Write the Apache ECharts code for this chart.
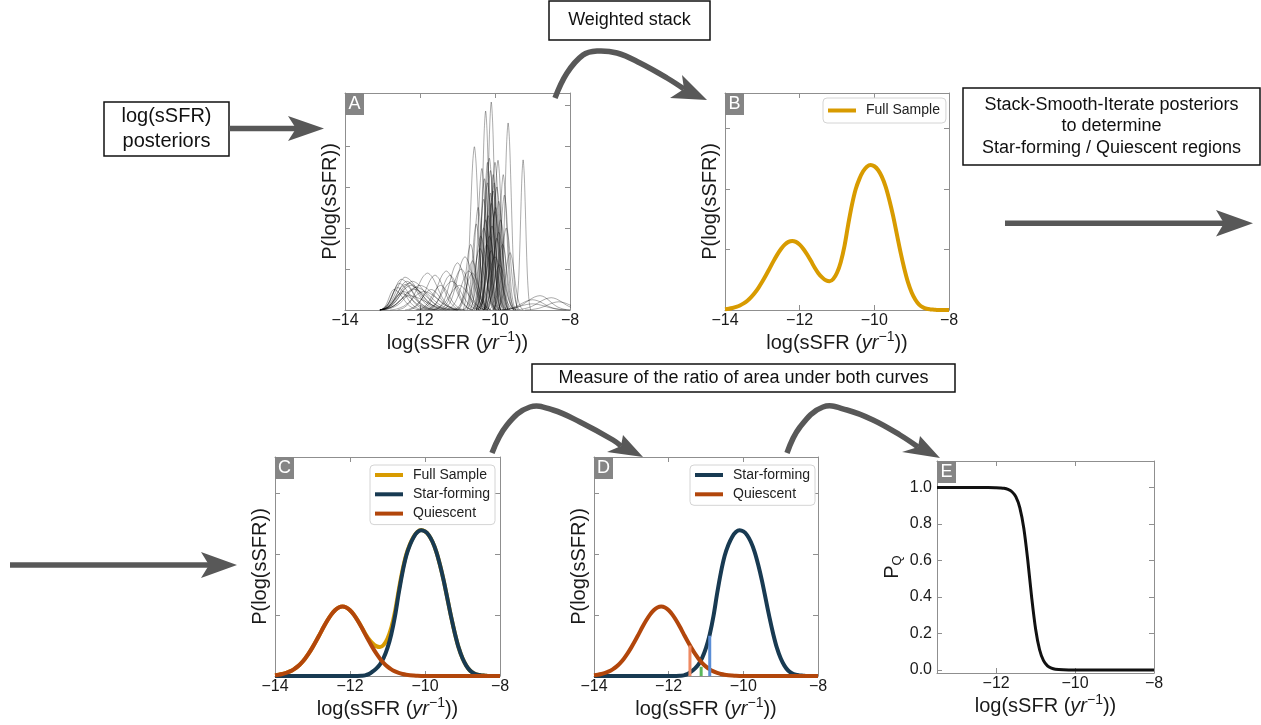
<!DOCTYPE html>
<html><head><meta charset="utf-8">
<script src="https://cdn.jsdelivr.net/npm/echarts@6/dist/echarts.min.js"></script>
<style>html,body{margin:0;padding:0;background:#fff}#c{width:1261px;height:725px}</style>
</head><body><div id="c"></div>
<script>
// ---------- data ----------
const xs = [-14.0,-13.9,-13.8,-13.7,-13.6,-13.5,-13.4,-13.3,-13.2,-13.1,-13.0,-12.9,-12.8,-12.7,-12.6,-12.5,-12.4,-12.3,-12.2,-12.1,-12.0,-11.9,-11.8,-11.7,-11.6,-11.5,-11.4,-11.3,-11.2,-11.1,-11.0,-10.9,-10.8,-10.7,-10.6,-10.5,-10.4,-10.3,-10.2,-10.1,-10.0,-9.9,-9.8,-9.7,-9.6,-9.5,-9.4,-9.3,-9.2,-9.1,-9.0,-8.9,-8.8,-8.7,-8.6,-8.5,-8.4,-8.3,-8.2,-8.1,-8.0];
const quiescent = [0.013,0.021,0.033,0.05,0.075,0.109,0.154,0.212,0.284,0.37,0.469,0.577,0.691,0.806,0.913,1.006,1.078,1.124,1.14,1.124,1.078,1.006,0.913,0.806,0.691,0.577,0.469,0.37,0.284,0.212,0.154,0.109,0.075,0.05,0.033,0.021,0.013,0.008,0.004,0.002,0.001,0,0,0,0,0,0,0,0,0,0,0,0,0,0,0,0,0,0,0,0];
const starForming = [0,0,0,0,0,0,0,0,0,0,0,0,0,0,0,0,0,0,0,0,0,0.001,0.002,0.005,0.01,0.03,0.07,0.12,0.19,0.3,0.46,0.68,0.98,1.36,1.7,1.97,2.15,2.28,2.36,2.39,2.37,2.31,2.2,2.04,1.82,1.56,1.26,0.96,0.69,0.46,0.29,0.17,0.09,0.045,0.02,0.01,0.005,0,0,0,0];
const fullSample = [0.013,0.021,0.033,0.05,0.075,0.109,0.154,0.212,0.284,0.37,0.469,0.577,0.691,0.806,0.913,1.006,1.078,1.124,1.14,1.124,1.078,1.007,0.915,0.811,0.701,0.607,0.539,0.49,0.474,0.512,0.614,0.789,1.055,1.41,1.733,1.991,2.163,2.288,2.364,2.392,2.371,2.31,2.2,2.04,1.82,1.56,1.26,0.96,0.69,0.46,0.29,0.17,0.09,0.045,0.02,0.01,0.005,0,0,0,0];

// panel A: individual posteriors, each read as (left foot, peak position, peak height, right foot)
const aPeakX = [-10.55,-10.25,-10.1,-10.15,-10.0,-9.92,-9.65,-9.25,-10.35,-10.2,-10.05,-9.95,-10.1,-10.0,-9.85,-10.3,-10.15,-9.8,-10.4,-10.0,-10.45,-9.75,-10.25,-9.9,-10.6,-9.6,-10.05,-10.2,-10.65,-9.7,
  -10.3,-10.12,-9.98,-10.18,-10.08,-9.9,-10.38,-10.22,-9.95,-10.1,-10.5,-9.78,-10.02,-10.28,-10.12,-9.88,-10.6,
  -11.6,-11.3,-11.0,-10.8,-11.8,-11.15,-10.95,-11.45,-11.2,-10.9,-11.7,-10.7,
  -12.5,-12.4,-12.3,-12.2,-12.6,-12.1,-12.45,-12.0,-12.3,-12.7,-11.9,-12.55,-12.35,-12.25,-12.5,-12.15,-12.4,
  -8.8,-8.5,-9.0,-8.3,-9.0];
const aPeakH = [3.98,4.85,5.07,3.7,3.6,3.65,4.56,3.66,3.45,3.1,2.9,3.0,2.6,2.4,2.2,2.0,1.8,1.6,1.5,1.3,2.5,2.8,2.2,1.9,1.2,1.4,3.3,3.6,1.6,2.0,
  2.7,3.4,2.5,2.3,2.05,2.65,1.8,1.6,1.75,1.45,2.1,3.3,3.1,3.2,2.85,1.1,0.9,
  0.85,0.95,1.15,1.3,0.9,0.7,0.6,0.6,0.85,1.0,0.5,0.95,
  0.75,0.8,0.65,0.7,0.55,0.55,0.45,0.6,0.35,0.5,0.45,0.65,0.7,0.6,0.4,0.5,0.62,
  0.35,0.3,0.25,0.2,0.15];
const aFootL = [-10.85,-10.5,-10.35,-10.5,-10.3,-10.2,-9.9,-9.45,-10.65,-10.5,-10.4,-10.25,-10.45,-10.35,-10.2,-10.7,-10.55,-10.15,-10.85,-10.5,-10.75,-10.05,-10.6,-10.3,-11.0,-9.95,-10.3,-10.45,-11.0,-10.05,
  -10.6,-10.4,-10.3,-10.5,-10.45,-10.2,-10.75,-10.6,-10.3,-10.5,-10.8,-10.05,-10.3,-10.55,-10.4,-10.3,-11.1,
  -12.3,-12.0,-11.6,-11.4,-12.6,-11.9,-11.7,-12.1,-11.8,-11.5,-12.4,-11.3,
  -13.07,-13.07,-13.07,-13.07,-13.07,-13.07,-13.07,-13.0,-13.07,-13.07,-12.8,-13.07,-13.07,-13.07,-13.07,-13.07,-13.07,
  -9.8,-9.5,-9.9,-9.2,-10.0];
const aFootR = [-10.25,-10.0,-9.85,-9.85,-9.7,-9.65,-9.4,-9.05,-10.05,-9.9,-9.7,-9.65,-9.75,-9.65,-9.5,-9.9,-9.75,-9.45,-9.95,-9.5,-10.15,-9.45,-9.9,-9.5,-10.2,-9.25,-9.8,-9.95,-10.3,-9.35,
  -10.0,-9.85,-9.65,-9.85,-9.7,-9.6,-10.0,-9.85,-9.6,-9.7,-10.2,-9.5,-9.75,-10.0,-9.85,-9.45,-10.1,
  -10.9,-10.6,-10.4,-10.2,-11.0,-10.4,-10.2,-10.8,-10.6,-10.3,-11.0,-10.1,
  -11.6,-11.4,-11.3,-11.2,-11.9,-11.0,-11.5,-10.9,-11.0,-12.0,-10.8,-11.8,-11.5,-11.3,-11.6,-11.1,-11.7,
  -8.0,-7.6,-8.1,-7.4,-8.0];
// typical bell profile of one posterior (relative position foot..peak..foot, relative height)
const aShapeT = [-1, -0.8, -0.6, -0.45, -0.3, -0.15, 0, 0.15, 0.3, 0.45, 0.6, 0.8, 1];
const aShapeH = [0, 0.056, 0.198, 0.40, 0.667, 0.90, 1, 0.90, 0.667, 0.40, 0.198, 0.056, 0];

// panel D: vertical markers (x, height)
const dLineX = [-11.43, -11.13, -10.9];
const dLineTop = [0.5, 0.15, 0.66];

// panel E: P_Q curve
const eX = [-13.5,-13.0,-12.5,-12.2,-12.0,-11.9,-11.8,-11.7,-11.6,-11.5,-11.4,-11.3,-11.2,-11.1,-11.0,-10.9,-10.8,-10.7,-10.6,-10.5,-10.3,-10.0,-9.0,-8.0];
const eY = [1,1,1,1,0.999,0.998,0.996,0.99,0.977,0.949,0.889,0.777,0.603,0.397,0.223,0.111,0.051,0.023,0.01,0.004,0.001,0,0,0];

const xTicks = [-14, -12, -10, -8];
const eXTicks = [-12, -10, -8];
const eYTicks = [0, 0.2, 0.4, 0.6, 0.8, 1.0];

// ---------- styling ----------
const FONT = '"Liberation Sans", Arial, sans-serif';
const FRAME = '#8f8f8f';
const TXT = '#1a1a1a';
const C_FULL = '#d89b00';
const C_SF = '#183a52';
const C_Q = '#b2460b';
const ARROW = '#585858';
const minus = v => (v < 0 ? '\u2212' + Math.abs(v) : String(v));

const xNameText = '{t|log(sSFR (}{i|yr}{s|\u22121}{t|))}';
const xNameStyle = {
  fontFamily: FONT, fontSize: 20, color: TXT,
  rich: {
    t: {fontFamily: FONT, fontSize: 20, color: TXT, lineHeight: 26},
    i: {fontFamily: FONT, fontSize: 20, color: TXT, fontStyle: 'italic', lineHeight: 26},
    s: {fontFamily: FONT, fontSize: 14, color: TXT, verticalAlign: 'top', lineHeight: 14}
  }
};

const grids = [
  {left: 345, top: 93, width: 225, height: 217},
  {left: 725, top: 93, width: 224, height: 217},
  {left: 275, top: 457, width: 225, height: 219},
  {left: 594, top: 457, width: 224, height: 219},
  {left: 937, top: 461, width: 217, height: 212}
];
const yMax = [5.29, 3.58, 3.59, 3.59];

const xAxes = [], yAxes = [];
function tickStyle(extra) {
  return Object.assign({show: true, inside: true, length: 5, lineStyle: {color: FRAME, width: 1}}, extra || {});
}
for (let p = 0; p < 4; p++) {
  xAxes.push({
    type: 'value', gridIndex: p, position: 'bottom', min: xTicks[0], max: xTicks[xTicks.length - 1], interval: 2,
    axisLine: {show: true, onZero: false, lineStyle: {color: FRAME, width: 1}},
    axisTick: tickStyle(), splitLine: {show: false},
    axisLabel: {show: true, color: TXT, fontFamily: FONT, fontSize: 16, margin: 3, showMinLabel: true, showMaxLabel: true, formatter: minus},
    name: xNameText, nameLocation: 'middle', nameGap: 20, nameTextStyle: xNameStyle
  });
  xAxes.push({
    type: 'value', gridIndex: p, position: 'top', min: xTicks[0], max: xTicks[xTicks.length - 1], interval: 2,
    axisLine: {show: true, onZero: false, lineStyle: {color: FRAME, width: 1}},
    axisTick: tickStyle(), splitLine: {show: false}, axisLabel: {show: false}
  });
  yAxes.push({
    type: 'value', gridIndex: p, position: 'left', min: 0, max: yMax[p], interval: 1,
    axisLine: {show: true, onZero: false, lineStyle: {color: FRAME, width: 1}},
    axisTick: tickStyle(), splitLine: {show: false}, axisLabel: {show: false},
    name: 'P(log(sSFR))', nameLocation: 'middle', nameRotate: 90, nameGap: 5,
    nameTextStyle: {fontFamily: FONT, fontSize: 20, color: TXT}
  });
  yAxes.push({
    type: 'value', gridIndex: p, position: 'right', min: 0, max: yMax[p], interval: 1,
    axisLine: {show: true, onZero: false, lineStyle: {color: FRAME, width: 1}},
    axisTick: tickStyle(), splitLine: {show: false}, axisLabel: {show: false}
  });
}
// panel E
xAxes.push({
  type: 'value', gridIndex: 4, position: 'bottom', min: -13.5, max: -8,
  axisLine: {show: true, onZero: false, lineStyle: {color: FRAME, width: 1}},
  axisTick: tickStyle({customValues: eXTicks}), splitLine: {show: false},
  axisLabel: {show: true, customValues: eXTicks, color: TXT, fontFamily: FONT, fontSize: 16, margin: 3, formatter: minus},
  name: xNameText, nameLocation: 'middle', nameGap: 20, nameTextStyle: xNameStyle
});
xAxes.push({
  type: 'value', gridIndex: 4, position: 'top', min: -13.5, max: -8,
  axisLine: {show: true, onZero: false, lineStyle: {color: FRAME, width: 1}},
  axisTick: tickStyle({customValues: eXTicks}), splitLine: {show: false}, axisLabel: {show: false}
});
yAxes.push({
  type: 'value', gridIndex: 4, position: 'left', min: -0.0164, max: 1.1456,
  axisLine: {show: true, onZero: false, lineStyle: {color: FRAME, width: 1}},
  axisTick: tickStyle({customValues: eYTicks}), splitLine: {show: false},
  axisLabel: {show: true, customValues: eYTicks, color: TXT, fontFamily: FONT, fontSize: 16, margin: 5, formatter: v => v.toFixed(1)},
  name: '{t|P}{s|Q}', nameLocation: 'middle', nameRotate: 90, nameGap: 33,
  nameTextStyle: {fontFamily: FONT, fontSize: 20, color: TXT, rich: {
    t: {fontFamily: FONT, fontSize: 20, color: TXT, lineHeight: 24},
    s: {fontFamily: FONT, fontSize: 13, color: TXT, verticalAlign: 'bottom', lineHeight: 13}
  }}
});
yAxes.push({
  type: 'value', gridIndex: 4, position: 'right', min: -0.0164, max: 1.1456,
  axisLine: {show: true, onZero: false, lineStyle: {color: FRAME, width: 1}},
  axisTick: tickStyle({customValues: eYTicks}), splitLine: {show: false}, axisLabel: {show: false}
});

// ---------- series ----------
const series = [];
function pairs(x, y) { return x.map((v, i) => [v, y[i]]); }
function curve(p, name, data, color, width, z) {
  return {type: 'line', name: name, xAxisIndex: 2 * p, yAxisIndex: 2 * p, data: data,
    symbol: 'none', smooth: 0.3, color: color, silent: true, z: z || 2,
    lineStyle: {color: color, width: width}, itemStyle: {color: color}};
}
// A: each posterior placed with its read foot/peak values
for (let k = 0; k < aPeakX.length; k++) {
  const pts = aShapeT.map((t, j) => {
    const half = t < 0 ? (aPeakX[k] - aFootL[k]) : (aFootR[k] - aPeakX[k]);
    return [aPeakX[k] + t * half, aShapeH[j] * aPeakH[k]];
  });
  series.push({type: 'line', xAxisIndex: 0, yAxisIndex: 0, symbol: 'none', smooth: 0.3, silent: true,
    data: pts, lineStyle: {color: 'rgba(0,0,0,0.33)', width: 1}});
}
// B
series.push(curve(1, 'Full Sample', pairs(xs, fullSample), C_FULL, 4));
// C
series.push(curve(2, 'Full Sample', pairs(xs, fullSample), C_FULL, 4, 2));
series.push(curve(2, 'Star-forming', pairs(xs, starForming), C_SF, 4, 3));
series.push(curve(2, 'Quiescent', pairs(xs, quiescent), C_Q, 4, 4));
// D
series.push(curve(3, 'Star-forming', pairs(xs, starForming), C_SF, 4, 3));
series.push(curve(3, 'Quiescent', pairs(xs, quiescent), C_Q, 4, 4));
const dColors = ['#ef8a62', '#5cb85c', '#5b8ed6'];
for (let k = 0; k < dLineX.length; k++) {
  series.push({type: 'line', xAxisIndex: 6, yAxisIndex: 6, symbol: 'none', silent: true, z: 5,
    data: [[dLineX[k], 0], [dLineX[k], dLineTop[k]]],
    lineStyle: {color: dColors[k], width: 3}});
}
// E
series.push(curve(4, 'PQ', pairs(eX, eY), '#111111', 3));

// ---------- legends ----------
function legend(names, left, top, padding) {
  return {data: names, left: left, top: top, orient: 'vertical', icon: 'rect', itemWidth: 28, itemHeight: 4,
    itemGap: 3.3, padding: padding, backgroundColor: '#ffffff', borderColor: '#d4d4d4', borderWidth: 1, borderRadius: 4,
    selectedMode: false, z: 10,
    textStyle: {fontFamily: FONT, fontSize: 14, color: '#222', lineHeight: 16, padding: [0, 0, 0, 5]}};
}
const legends = [
  legend(['Full Sample'], 823, 98, [4.5, 6, 4.5, 5]),
  legend(['Full Sample', 'Star-forming', 'Quiescent'], 370, 465, [2, 5, 3, 5]),
  legend(['Star-forming', 'Quiescent'], 690, 465, [2, 5, 3, 5])
];

// ---------- diagram graphics ----------
const graphic = [];
function box(x, y, w, h, text, fs, lh) {
  graphic.push({type: 'rect', shape: {x: x, y: y, width: w, height: h}, z: 20, silent: true,
    style: {fill: '#fff', stroke: '#111', lineWidth: 1.5}});
  graphic.push({type: 'text', x: x + w / 2, y: y + h / 2, z: 21, silent: true,
    style: {text: text, fill: '#111', font: fs + 'px ' + FONT, fontSize: fs, fontFamily: FONT, lineHeight: lh,
      align: 'center', verticalAlign: 'middle', textAlign: 'center', textVerticalAlign: 'middle'}});
}
function shaft(points, smooth) {
  graphic.push({type: 'polyline', shape: {points: points, smooth: smooth || 0}, z: 20, silent: true,
    style: {stroke: ARROW, lineWidth: 5.5, fill: null}});
}
function head(points) {
  graphic.push({type: 'polygon', shape: {points: points}, z: 21, silent: true, style: {fill: ARROW}});
}
function tag(x, y, letter) {
  graphic.push({type: 'rect', shape: {x: x, y: y, width: 19, height: 22}, z: 22, silent: true, style: {fill: '#858585'}});
  graphic.push({type: 'text', x: x + 9.5, y: y + 11.5, z: 23, silent: true,
    style: {text: letter, fill: '#fff', font: '18px ' + FONT, fontSize: 18, fontFamily: FONT,
      align: 'center', verticalAlign: 'middle', textAlign: 'center', textVerticalAlign: 'middle'}});
}
box(104, 102, 125, 54, 'log(sSFR)\nposteriors', 20, 25);
box(549, 1, 161, 39, 'Weighted stack', 18, 22);
box(963, 88, 297, 77, 'Stack-Smooth-Iterate posteriors\nto determine\nStar-forming / Quiescent regions', 18, 21.7);
box(532, 364, 423, 28, 'Measure of the ratio of area under both curves', 18, 22);

shaft([[229, 128.5], [298, 128.5]]);
head([[324, 128.5], [288, 116], [296, 128.5], [288, 141]]);

shaft([[555, 98], [567, 73], [583, 55], [597, 51], [617, 53], [640, 63], [667, 78], [684, 89]], 0.4);
head([[707, 100], [682, 75], [684, 89], [670, 98]]);

shaft([[1005, 223.3], [1226, 223.3]]);
head([[1253, 223.3], [1216, 210], [1224, 223.3], [1216, 236.5]]);

shaft([[10, 565], [210, 565]]);
head([[237, 565], [201, 552], [209, 565], [201, 578]]);

shaft([[492, 453], [507, 425], [530, 407], [553, 410], [580, 422], [613, 440], [621, 446]], 0.4);
head([[643, 457], [623, 435], [621, 446], [607, 452]]);

shaft([[787, 453], [800, 427], [823, 407], [847, 410], [873, 420], [900, 435], [918, 447]], 0.4);
head([[940, 458], [920, 436], [918, 447], [902, 452]]);

tag(345, 93, 'A');
tag(725, 93, 'B');
tag(275, 457, 'C');
tag(594, 457, 'D');
tag(937, 461, 'E');

const chart = echarts.init(document.getElementById('c'), null, {renderer: 'canvas'});
chart.setOption({
  animation: false,
  backgroundColor: '#ffffff',
  textStyle: {fontFamily: FONT},
  grid: grids,
  xAxis: xAxes,
  yAxis: yAxes,
  legend: legends,
  series: series,
  graphic: graphic
});
</script>
</body></html>
